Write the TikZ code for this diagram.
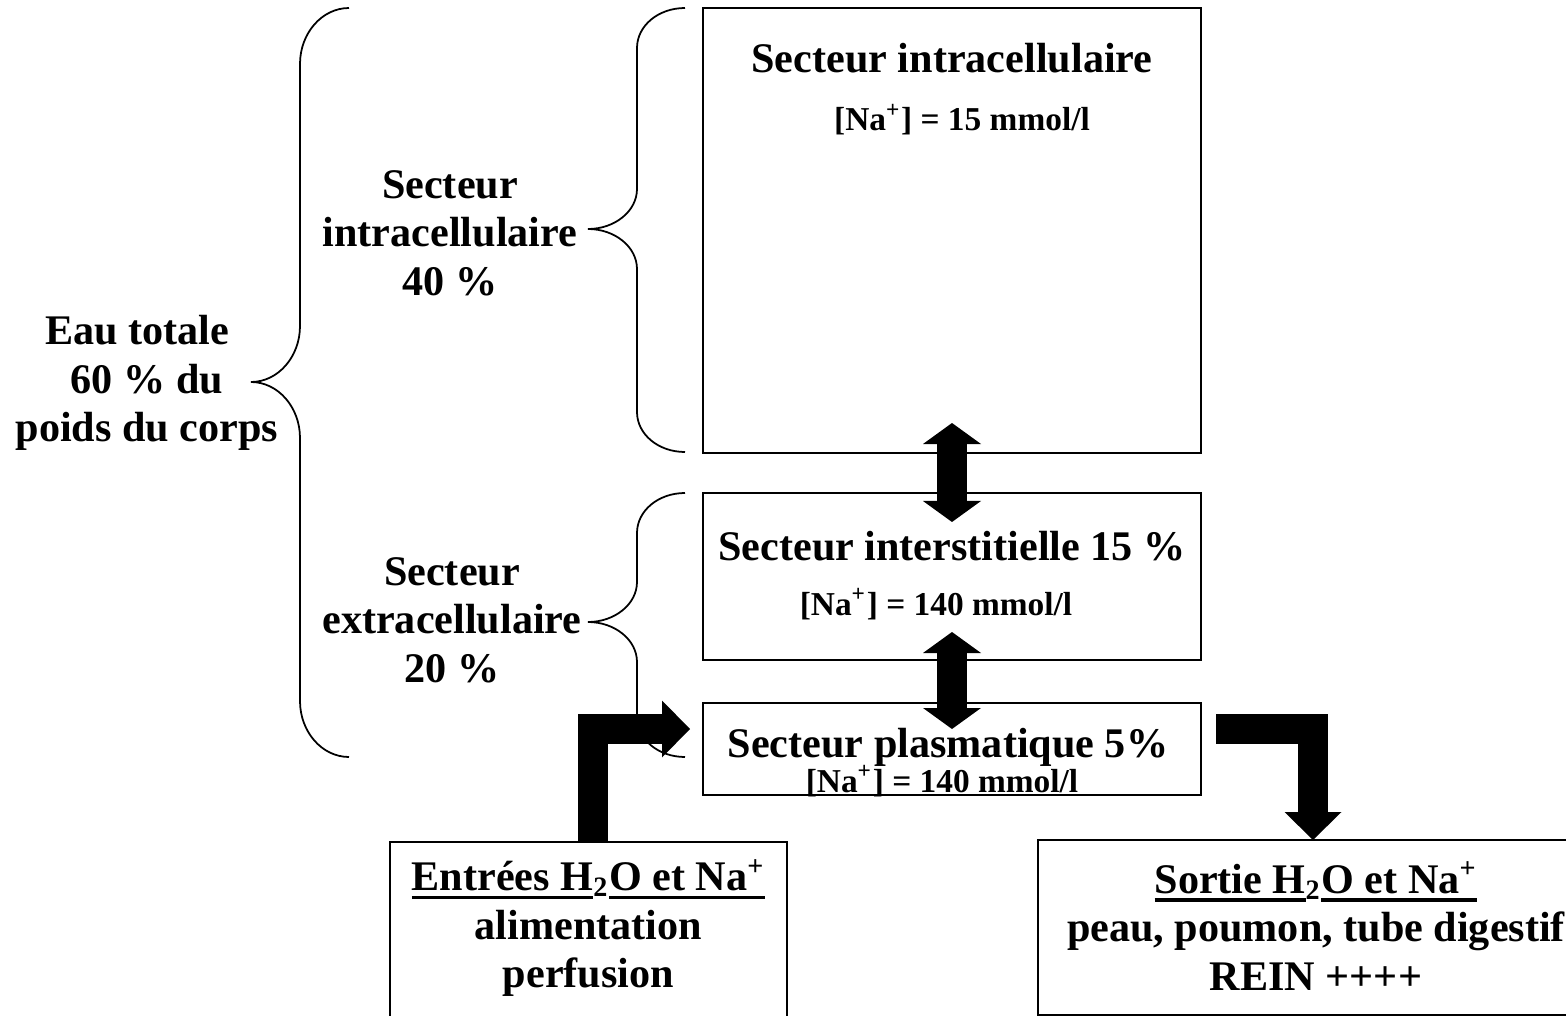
\documentclass[tikz,border=0pt]{standalone}
\usepackage{fontspec}
\setmainfont{Liberation Serif}
\usetikzlibrary{positioning, arrows.meta, calc}

% accolade : x bout, x verticale, x pointe, y haut, y pointe, y bas, hauteur des courbes
\newcommand{\accolade}[7]{%
  \draw[accolade] (#1,#4) .. controls (#1-0.27,#4) and (#2,#4-0.45*#7) .. (#2,#4-#7)
    -- (#2,#5+#7) .. controls (#2,#5+0.45*#7) and (#3+0.27,#5) .. (#3,#5)
    .. controls (#3+0.27,#5) and (#2,#5-0.45*#7) .. (#2,#5-#7)
    -- (#2,#6+#7) .. controls (#2,#6+0.45*#7) and (#1-0.27,#6) .. (#1,#6);}

% soulignement epais
\newcommand{\souligne}[1]{\setbox0\hbox{#1}\rlap{\rule[-0.21em]{\wd0}{0.085em}}\box0}

\begin{document}
\begin{tikzpicture}[
        boite/.style={rectangle, draw, line width=0.6pt, anchor=north west, inner sep=0pt, outer sep=0pt},
        titre/.style={font=\fontsize{12}{13.8}\selectfont\bfseries, inner sep=0pt, align=center},
        petit/.style={font=\fontsize{9.5}{11}\selectfont\bfseries, inner sep=0pt},
        accolade/.style={line width=0.5pt},
        grosse/.style={line width=0.3cm, -{Triangle[width=0.57cm, length=0.28cm, line width=0pt]}},
        dfleche/.style={line width=0.3cm, {Triangle[width=0.58cm, length=0.21cm, line width=0pt]}-{Triangle[width=0.58cm, length=0.21cm, line width=0pt]}},
    ]
        \useasboundingbox (0,0) rectangle (15.66,-10.16);

        % Compartiments
        \node[boite, minimum width=4.98cm, minimum height=4.45cm] (intra) at (7.03,-0.08) {};
        \node[boite, minimum width=4.98cm, minimum height=1.67cm] (inter) at (7.03,-4.93) {};
        \node[boite, minimum width=4.98cm, minimum height=0.92cm] (plasma) at (7.03,-7.03) {};

        % Entrees et sorties
        \node[boite, minimum width=3.97cm, minimum height=1.75cm] (entrees) at (3.90,-8.42) {};
        \node[boite, minimum width=5.44cm, minimum height=1.75cm] (sortie) at (10.38,-8.40) {};

        % Accolades
        \accolade{3.49}{3.00}{2.51}{-0.08}{-3.82}{-7.57}{0.56}
        \accolade{6.85}{6.37}{5.88}{-0.08}{-2.29}{-4.52}{0.40}
        \accolade{6.85}{6.37}{5.88}{-4.93}{-6.22}{-7.57}{0.40}

        % Echanges
        \draw[dfleche, shorten <=-0.30cm, shorten >=-0.29cm] (intra.south) -- (inter.north);
        \draw[dfleche, shorten <=-0.28cm, shorten >=-0.26cm] (inter.south) -- (plasma.north);
        \draw[grosse] ([xshift=0.045cm]entrees.north) |- ([xshift=-0.13cm, yshift=0.2cm]plasma.west);
        \draw[grosse] ([xshift=0.15cm, yshift=0.2cm]plasma.east) -| ([xshift=0.03cm]sortie.north);

        % Textes des compartiments
        \node[titre, anchor=base] (t-intra) at ([yshift=-0.65cm]intra.north) {Secteur intracellulaire};
        \node[petit, anchor=base] (na-intra) at ([xshift=0.10cm, yshift=-1.23cm]intra.north) {[Na\textsuperscript{+}] = 15 mmol/l};
        \node[titre, anchor=base] (t-inter) at ([yshift=-0.68cm]inter.north) {Secteur interstitielle 15 \%};
        \node[petit, anchor=base] (na-inter) at ([xshift=-0.16cm, yshift=-1.22cm]inter.north) {[Na\textsuperscript{+}] = 140 mmol/l};
        \node[titre, anchor=base] (t-plasma) at ([xshift=-0.04cm, yshift=-0.54cm]plasma.north) {Secteur plasmatique 5\%};
        \node[petit, anchor=base] (na-plasma) at ([xshift=-0.10cm, yshift=-0.89cm]plasma.north) {[Na\textsuperscript{+}] = 140 mmol/l};

        \node[titre] (t-entrees) at ([yshift=-0.86cm]entrees.north) {\souligne{Entrées H}\textsubscript{2}\souligne{O et Na\textsuperscript{+}}\\alimentation\\perfusion};
        \node[titre] (t-sortie) at ([xshift=0.06cm, yshift=-0.86cm]sortie.north) {\souligne{Sortie H}\textsubscript{2}\souligne{O et Na\textsuperscript{+}}\\peau, poumon, tube digestif\\REIN ++++};

        % Etiquettes des accolades
        \node[titre] (eau) at (1.47,-3.83) {Eau totale\hspace*{0.2cm}\\60 \% du\\poids du corps};
        \node[titre] (l-intra) at (4.50,-2.33) {Secteur\\intracellulaire\\40 \%};
        \node[titre] (l-extra) at (4.52,-6.20) {Secteur\\extracellulaire\\20 \%};
    \end{tikzpicture}
\end{document}
